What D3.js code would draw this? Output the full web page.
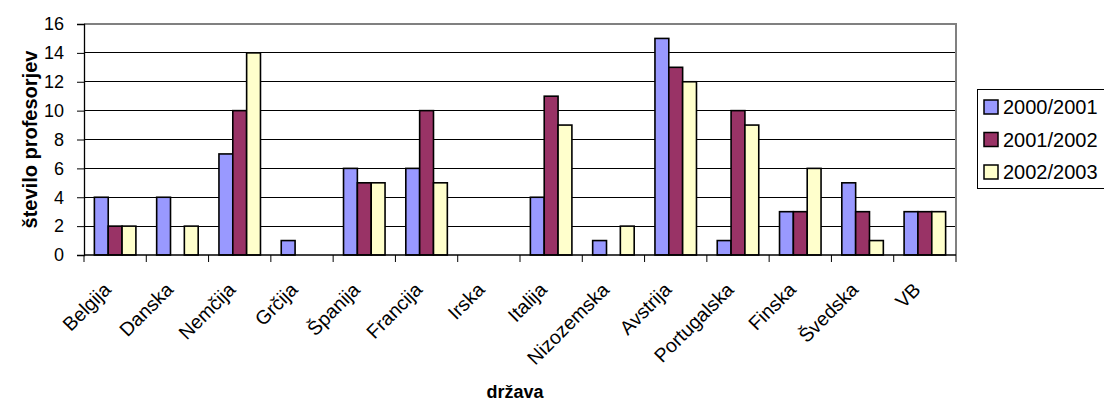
<!DOCTYPE html>
<html>
<head>
<meta charset="utf-8">
<script src="https://cdn.jsdelivr.net/npm/d3@7"></script>
<style>
  html, body { margin: 0; padding: 0; background: #fff; }
  svg { display: block; font-family: "Liberation Sans", Arial, sans-serif; }
</style>
</head>
<body>
<svg id="chart" width="1104" height="401"></svg>
<script>
// Number of professors per country, by school year
const countries = ["Belgija", "Danska", "Nemčija", "Grčija", "Španija", "Francija", "Irska",
                   "Italija", "Nizozemska", "Avstrija", "Portugalska", "Finska", "Švedska", "VB"];
const seriesNames = ["2000/2001", "2001/2002", "2002/2003"];
const values2000 = [4, 4, 7, 1, 6, 6, 0, 4, 1, 15, 1, 3, 5, 3];
const values2001 = [2, 0, 10, 0, 5, 10, 0, 11, 0, 13, 10, 3, 3, 3];
const values2002 = [2, 2, 14, 0, 5, 5, 0, 9, 2, 12, 9, 6, 1, 3];
const yTicks = [0, 2, 4, 6, 8, 10, 12, 14, 16];
const seriesColors = ["#9999FF", "#993366", "#FFFFCC"];

const seriesValues = [values2000, values2001, values2002];
const rows = countries.map((c, i) => ({
  country: c,
  vals: seriesValues.map((s, k) => ({ key: seriesNames[k], k, v: s[i] }))
}));

const svg = d3.select("#chart");
const plot = { left: 84, right: 956, top: 24, bottom: 255 };

const x = d3.scaleBand().domain(countries).range([plot.left, plot.right]).paddingInner(0).paddingOuter(0);
// 150% gap: each category holds 3 bars plus 1.5 bar widths of space
const xInner = d3.scaleBand().domain(seriesNames).range([0, x.bandwidth()]).paddingInner(0).paddingOuter(0.75);
const y = d3.scaleLinear().domain([0, 16]).range([plot.bottom, plot.top]);

// Horizontal gridlines
svg.append("g")
  .selectAll("line")
  .data(yTicks.filter(t => t > 0 && t < 16))
  .join("line")
  .attr("x1", plot.left).attr("x2", plot.right)
  .attr("y1", d => y(d)).attr("y2", d => y(d))
  .attr("stroke", "#000").attr("stroke-width", 1)
  .attr("shape-rendering", "crispEdges");

// Gray frame on top and right
svg.append("path")
  .attr("d", `M${plot.left},${y(16)}H${plot.right}V${plot.bottom}`)
  .attr("fill", "none").attr("stroke", "#808080").attr("stroke-width", 2);

// Bars
const groups = svg.append("g").selectAll("g")
  .data(rows).join("g")
  .attr("transform", d => `translate(${x(d.country)},0)`);

groups.selectAll("rect")
  .data(d => d.vals).join("rect")
  .attr("x", d => xInner(d.key))
  .attr("width", xInner.bandwidth())
  .attr("y", d => y(d.v))
  .attr("height", d => y(0) - y(d.v))
  .attr("fill", d => seriesColors[d.k])
  .attr("stroke", "#000").attr("stroke-width", 1.6);

// Y axis
const yAxis = d3.axisLeft(y).tickValues(yTicks).tickSize(7).tickPadding(13).tickFormat(d3.format("d"));
const gy = svg.append("g").attr("transform", `translate(${plot.left},0)`).call(yAxis);
gy.select(".domain").attr("stroke", "#000").attr("stroke-width", 1.3);
gy.selectAll(".tick line").attr("stroke", "#000");
gy.selectAll(".tick text").attr("font-size", 18).attr("fill", "#000")
  .attr("font-family", "Liberation Sans, Arial, sans-serif");

// X axis: ticks on category boundaries
const boundaries = countries.map(c => x(c)).concat([plot.right]);
const gx = svg.append("g");
gx.append("line")
  .attr("x1", plot.left).attr("x2", plot.right)
  .attr("y1", plot.bottom).attr("y2", plot.bottom)
  .attr("stroke", "#000").attr("stroke-width", 1.6);
gx.selectAll("line.tk").data(boundaries).join("line")
  .attr("class", "tk")
  .attr("x1", d => d).attr("x2", d => d)
  .attr("y1", plot.bottom).attr("y2", plot.bottom + 7)
  .attr("stroke", "#000").attr("stroke-width", 1);

// Rotated category labels
gx.selectAll("text").data(countries).join("text")
  .attr("transform", d => `translate(${x(d) + x.bandwidth() / 2 - 8},${plot.bottom + 31}) rotate(-45)`)
  .attr("text-anchor", "end")
  .attr("dominant-baseline", "central")
  .attr("font-size", 19.5)
  .text(d => d);

// Axis titles
svg.append("text")
  .attr("x", 515).attr("y", 398)
  .attr("text-anchor", "middle")
  .attr("font-size", 18).attr("font-weight", "bold")
  .text("država");

svg.append("text")
  .attr("transform", `translate(30,${(plot.top + plot.bottom) / 2}) rotate(-90)`)
  .attr("text-anchor", "middle")
  .attr("dominant-baseline", "central")
  .attr("font-size", 20).attr("font-weight", "bold")
  .text("število profesorjev");

// Legend
const legend = svg.append("g");
legend.append("rect")
  .attr("x", 977.5).attr("y", 89.5).attr("width", 140).attr("height", 99)
  .attr("fill", "#fff").attr("stroke", "#000").attr("stroke-width", 1);
const items = legend.selectAll("g.item").data(seriesNames).join("g")
  .attr("class", "item")
  .attr("transform", (d, i) => `translate(984,${107 + i * 32.5})`);
items.append("rect")
  .attr("x", 0).attr("y", -7).attr("width", 14).attr("height", 14)
  .attr("fill", (d, i) => seriesColors[i])
  .attr("stroke", "#000").attr("stroke-width", 1.5);
items.append("text")
  .attr("x", 19).attr("y", 0)
  .attr("dominant-baseline", "central")
  .attr("font-size", 20)
  .text(d => d);
</script>
</body>
</html>
